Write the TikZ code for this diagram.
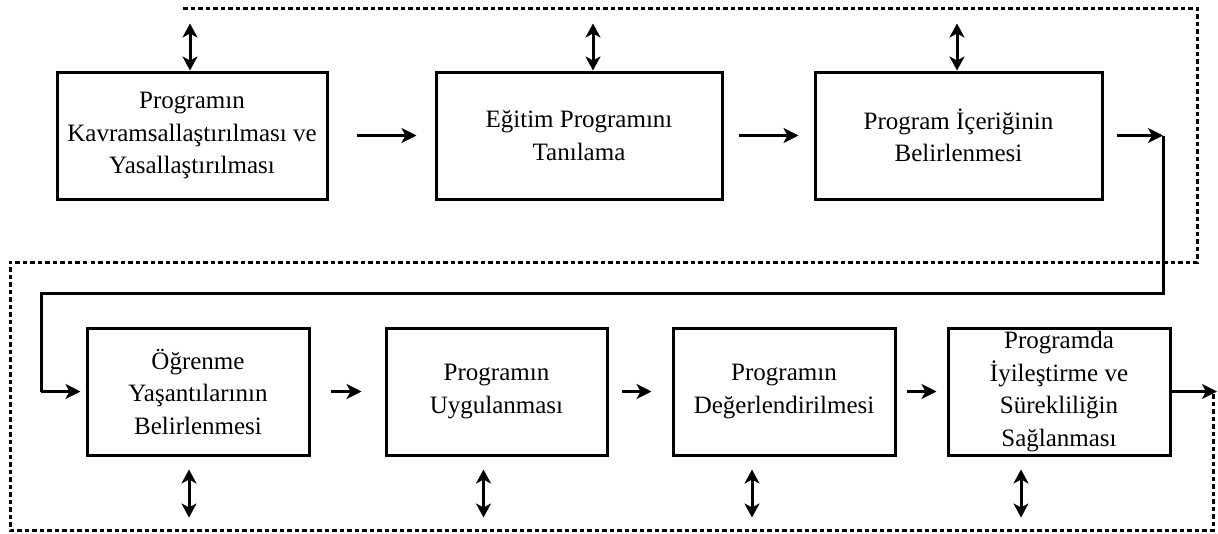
\documentclass[tikz,border=0pt]{standalone}
\usepackage{fontspec}
\setmainfont{Liberation Serif}
\usetikzlibrary{arrows.meta}
\begin{document}
\begin{tikzpicture}[x=1pt,y=-1pt,
  box/.style={draw, line width=3pt, rectangle, minimum height=127pt, inner sep=0pt,
    align=center, font=\fontsize{25}{32.5}\selectfont},
  arr/.style={line width=3pt, -{Stealth[length=15pt,width=15pt,inset=4pt]}},
  dbl/.style={line width=3pt, {Stealth[length=14pt,width=15pt,inset=4pt]}-{Stealth[length=14pt,width=15pt,inset=4pt]}},
  link/.style={line width=3pt},
  loop/.style={line width=3pt, dash pattern=on 4.5pt off 3pt}]
\useasboundingbox (0,0) rectangle (1218,533);

% top row
\node[box, minimum width=270pt] (b1) at (192,135.5) {Programın\\Kavramsallaştırılması ve\\Yasallaştırılması};
\node[box, minimum width=286pt] (b2) at (579,135.5) {Eğitim Programını\\Tanılama};
\node[box, minimum width=287pt] (b3) at (958.5,135.5) {Program İçeriğinin\\Belirlenmesi};

% bottom row
\node[box, minimum width=222pt] (b4) at (198,391.5) {Öğrenme\\Yaşantılarının\\Belirlenmesi};
\node[box, minimum width=221pt] (b5) at (496.5,391.5) {Programın\\Uygulanması};
\node[box, minimum width=222pt] (b6) at (784,391.5) {Programın\\Değerlendirilmesi};
\node[box, minimum width=222pt] (b7) at (1059,391.5) {Programda\\İyileştirme ve\\Sürekliliğin\\Sağlanması};

% turning points
\coordinate (c1) at (1163,135.5);
\coordinate (t1) at (1163,293);
\coordinate (t2) at (41,293);
\coordinate (o1) at (1217,391.5);

% dotted feedback loop
\coordinate (d0) at (183,8);
\coordinate (d1) at (1197,8);
\coordinate (d2) at (1197,262);
\coordinate (d3) at (10,262);
\coordinate (d4) at (10,530);
\coordinate (d5) at (1213,530);
\coordinate (d6) at (1213,392);
\draw[loop] (d0) -- (d1) -- (d2) -- (d3) -- (d4) -- (d5) -- (d6);

% flow arrows
\draw[arr, shorten <=28pt, shorten >=18pt] (b1) -- (b2);
\draw[arr, shorten <=15pt, shorten >=15pt] (b2) -- (b3);
\draw[arr, shorten <=13pt] (b3.east) -- (c1);
\draw[link] (c1) -- (t1) -- (t2) -- (t2 |- b4.west);
\draw[arr, shorten >=5pt] (t2 |- b4.west) -- (b4.west);
\draw[arr, shorten <=20pt, shorten >=23pt] (b4) -- (b5);
\draw[arr, shorten <=13pt, shorten >=20pt] (b5) -- (b6);
\draw[arr, shorten <=10pt, shorten >=10pt] (b6) -- (b7);
\draw[arr] (b7.east) -- (o1);

% two-way links to the loop
\draw[dbl] ([xshift=-2pt]b1.north) -- ++(0,-47);
\draw[dbl] ([xshift=14pt]b2.north) -- ++(0,-47);
\draw[dbl] ([xshift=-1.5pt]b3.north) -- ++(0,-47);
\draw[dbl] ([xshift=-9pt,yshift=-13pt]b4.south) -- ++(0,48);
\draw[dbl] ([xshift=-13pt,yshift=-13pt]b5.south) -- ++(0,48);
\draw[dbl] ([xshift=-32pt,yshift=-13pt]b6.south) -- ++(0,48);
\draw[dbl] ([xshift=-38pt,yshift=-13pt]b7.south) -- ++(0,48);
\end{tikzpicture}
\end{document}
